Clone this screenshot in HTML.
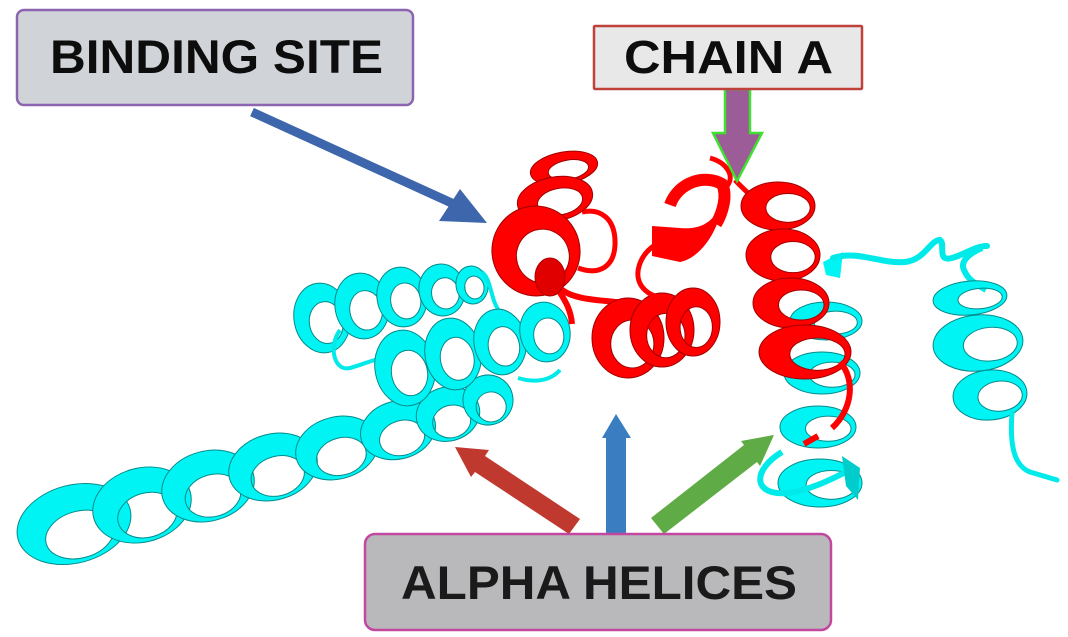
<!DOCTYPE html>
<html>
<head>
<meta charset="utf-8">
<style>
  html,body{margin:0;padding:0;background:#fff;}
  svg{display:block;}
  text{font-family:"Liberation Sans", Arial, sans-serif;font-weight:bold;}
</style>
</head>
<body>
<svg width="1068" height="637" viewBox="0 0 1068 637" xmlns="http://www.w3.org/2000/svg">
  <defs>
    <path id="r1" fill-rule="evenodd" vector-effect="non-scaling-stroke"
      d="M-1,0A1,1 0 1,0 1,0A1,1 0 1,0 -1,0Z M-0.48,0.15A0.6,0.6 0 1,0 0.72,0.15A0.6,0.6 0 1,0 -0.48,0.15Z"/>
    <path id="r2" fill-rule="evenodd" vector-effect="non-scaling-stroke"
      d="M-1,0A1,1 0 1,0 1,0A1,1 0 1,0 -1,0Z M-0.33,0.08A0.6,0.6 0 1,0 0.87,0.08A0.6,0.6 0 1,0 -0.33,0.08Z"/>
    <path id="r3" fill-rule="evenodd" vector-effect="non-scaling-stroke"
      d="M-1,0A1,1 0 1,0 1,0A1,1 0 1,0 -1,0Z M-0.55,0.3A0.6,0.6 0 1,0 0.65,0.3A0.6,0.6 0 1,0 -0.55,0.3Z"/>
  </defs>

  <rect width="1068" height="637" fill="#fff"/>

  <!-- ===== Cyan long helix ===== -->
  <g fill="#00f4f4" stroke="#078a8a" stroke-width="1">
    <use href="#r3" transform="translate(74,524) rotate(-15) scale(58,39)"/>
    <use href="#r3" transform="translate(142,505) rotate(-15) scale(50,37)"/>
    <use href="#r3" transform="translate(208,486) rotate(-15) scale(47,35)"/>
    <use href="#r3" transform="translate(273,467) rotate(-15) scale(45,33)"/>
    <use href="#r3" transform="translate(337,448) rotate(-15) scale(42,31)"/>
    <use href="#r3" transform="translate(398,430) rotate(-15) scale(38,29)"/>
    <use href="#r3" transform="translate(448,414) rotate(-15) scale(32,27)"/>
    <use href="#r3" transform="translate(488,400) rotate(-15) scale(25,25)"/>
  </g>

  <!-- ===== Cyan cluster: back helix ===== -->
  <g fill="#00f4f4" stroke="#078a8a" stroke-width="1">
    <use href="#r1" transform="translate(322,318) rotate(-10) scale(28,35)"/>
    <use href="#r1" transform="translate(362,306) rotate(-10) scale(27,33)"/>
    <use href="#r1" transform="translate(402,297) rotate(-10) scale(25,30)"/>
    <use href="#r1" transform="translate(442,290) rotate(-10) scale(23,26)"/>
    <use href="#r1" transform="translate(472,285) rotate(-10) scale(16,19)"/>
  </g>
  <path d="M340,330 C328,346 334,372 350,368 C365,364 375,358 388,358" fill="none" stroke="#00eaea" stroke-width="4"/>
  <path d="M482,272 C492,280 490,300 500,312" fill="none" stroke="#00eaea" stroke-width="4"/>

  <!-- ===== Cyan cluster: front helix ===== -->
  <g fill="#00f4f4" stroke="#078a8a" stroke-width="1">
    <use href="#r1" transform="translate(405,368) rotate(-10) scale(30,38)"/>
    <use href="#r1" transform="translate(453,354) rotate(-10) scale(28,36)"/>
    <use href="#r1" transform="translate(500,342) rotate(-10) scale(26,33)"/>
    <use href="#r1" transform="translate(545,332) rotate(-10) scale(25,30)"/>
  </g>
  <path d="M518,378 C535,383 550,381 560,370" fill="none" stroke="#00eaea" stroke-width="4"/>

  <!-- ===== Cyan right helix ===== -->
  <polygon points="823,262 843,252 840,278 826,275" fill="#00f4f4"/>
  <g fill="#00f4f4" stroke="#078a8a" stroke-width="1">
    <use href="#r2" transform="translate(826,321) scale(36,19)"/>
    <use href="#r2" transform="translate(822,373) scale(38,21)"/>
    <use href="#r2" transform="translate(818,427) scale(38,21)"/>
    <use href="#r2" transform="translate(820,483) scale(42,24)"/>
  </g>
  <path d="M782,452 C752,470 752,496 788,493 C810,490 830,480 850,470" fill="none" stroke="#00eaea" stroke-width="6"/>
  <polygon points="842,456 860,468 858,500 846,486" fill="#0cc"/>

  <!-- ===== Cyan far right ===== -->
  <path d="M833,258 C858,250 880,264 905,262 C925,260 930,240 940,240 C946,244 936,262 952,258 C966,254 975,246 987,246" fill="none" stroke="#00eaea" stroke-width="6" stroke-linecap="round"/>
  <path d="M982,248 C968,254 960,262 964,270 C968,280 976,284 986,290" fill="none" stroke="#00eaea" stroke-width="6"/>
  <g fill="#00f4f4" stroke="#078a8a" stroke-width="1">
    <use href="#r2" transform="translate(970,298) rotate(-5) scale(37,17)"/>
    <use href="#r2" transform="translate(978,343) rotate(-5) scale(45,28)"/>
    <use href="#r2" transform="translate(990,395) rotate(-5) scale(37,25)"/>
  </g>
  <path d="M1012,413 C1010,440 1012,465 1030,472 L1057,480" fill="none" stroke="#00eaea" stroke-width="5" stroke-linecap="round"/>

  <!-- ===== Red binding helix ===== -->
  <path d="M582,212 C600,208 616,218 615,245 C614,266 600,276 578,268" fill="none" stroke="#f00" stroke-width="5"/>
  <path d="M548,270 C556,292 570,300 572,324" fill="none" stroke="#f00" stroke-width="6"/>
  <path d="M560,288 C572,300 600,300 626,303" fill="none" stroke="#f00" stroke-width="6"/>
  <g fill="#ff0000" stroke="#a00000" stroke-width="1">
    <use href="#r1" transform="translate(564,168) rotate(-10) scale(34,16)"/>
    <use href="#r1" transform="translate(555,199) rotate(-10) scale(38,22)"/>
    <use href="#r1" transform="translate(536,251) rotate(-15) scale(44,45)"/>
  </g>
  <ellipse cx="550" cy="277" rx="15" ry="19" fill="#e00000" stroke="#a00" stroke-width="1"/>

  <!-- ===== Red middle helix ===== -->
  <g fill="#ff0000" stroke="#a00000" stroke-width="1">
    <use href="#r1" transform="translate(628,338) scale(36,40)"/>
    <use href="#r1" transform="translate(662,330) scale(32,37)"/>
    <use href="#r1" transform="translate(693,322) scale(27,34)"/>
  </g>

  <!-- ===== Red short helix (center top) ===== -->
  <path d="M655,245 C640,255 632,275 643,288 C650,296 660,298 668,298" fill="none" stroke="#f00" stroke-width="5"/>
  <path d="M652,226 L680,228 C700,230 712,222 718,210 L724,196 C720,232 700,258 680,262 L652,256 Z" fill="#f00"/>
  <path d="M670,205 C678,182 705,174 722,184 C728,196 722,214 716,224" fill="none" stroke="#f00" stroke-width="12"/>
  <path d="M710,158 C725,162 736,175 727,186" fill="none" stroke="#f00" stroke-width="5"/>
  <path d="M735,180 C742,188 748,192 752,198" fill="none" stroke="#f00" stroke-width="5"/>

  <!-- ===== Red right long helix ===== -->
  <g fill="#ff0000" stroke="#a00000" stroke-width="1">
    <use href="#r2" transform="translate(778,206) scale(37,24)"/>
    <use href="#r2" transform="translate(783,255) scale(37,26)"/>
    <use href="#r2" transform="translate(791,303) scale(38,25)"/>
    <use href="#r2" transform="translate(805,352) scale(46,27)"/>
  </g>
  <path d="M840,362 C856,380 852,410 832,428" fill="none" stroke="#f00" stroke-width="6"/>
  <path d="M804,444 L818,436" fill="none" stroke="#f00" stroke-width="6"/>

  <!-- ===== Arrows ===== -->
  <line x1="252" y1="112" x2="456" y2="205" stroke="#3d66ad" stroke-width="9"/>
  <polygon points="487,223 460,189 439,221" fill="#3d66ad"/>

  <polygon points="725,89 750,89 750,133 762,133 737,181 713,133 725,133" fill="#9b5c98" stroke="#3fe030" stroke-width="2.5"/>

  <polygon points="455,447 489,450 485,456 580,519 569,534 475,472 471,477" fill="#c0392f"/>
  <polygon points="606,535 606,438 602,438 616,414 631,438 626,438 626,535" fill="#3a7dc1"/>
  <polygon points="774,435 760,466 757,462 664,534 651,518 744,445 741,441" fill="#5fab46"/>

  <!-- ===== Labels ===== -->
  <rect x="17" y="10" width="396" height="95" rx="7" fill="#d0d3d7" stroke="#8c64b0" stroke-width="2.5"/>
  <text x="50" y="73" font-size="47" fill="#0d0d0d" textLength="333" lengthAdjust="spacingAndGlyphs">BINDING SITE</text>

  <rect x="594" y="26" width="268" height="63" rx="1" fill="#e8e8e8" stroke="#c0403a" stroke-width="2.5"/>
  <text x="624" y="73" font-size="46" fill="#0d0d0d" textLength="209" lengthAdjust="spacingAndGlyphs">CHAIN A</text>

  <rect x="365" y="534" width="466" height="96" rx="10" fill="#b9b9bb" stroke="#c2489f" stroke-width="2.5"/>
  <text x="401" y="599" font-size="47" fill="#1a1a1a" textLength="396" lengthAdjust="spacingAndGlyphs">ALPHA HELICES</text>
</svg>
</body>
</html>
